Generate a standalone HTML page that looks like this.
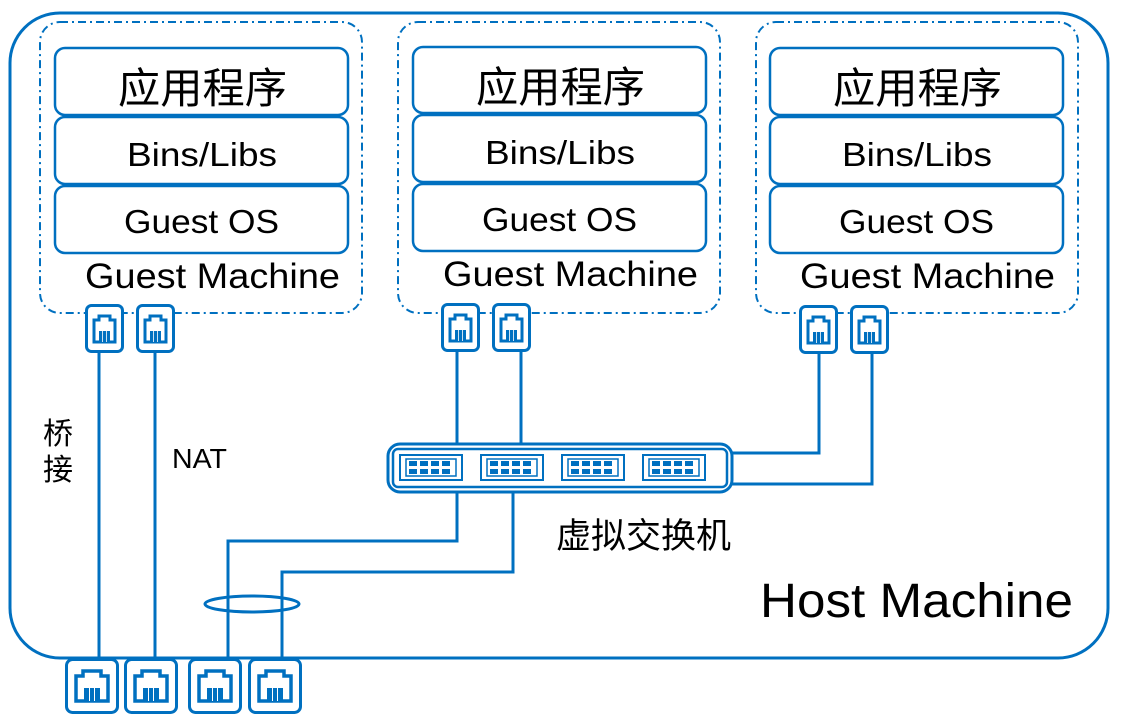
<!DOCTYPE html>
<html><head><meta charset="utf-8"><style>
html,body{margin:0;padding:0;background:#fff;}
svg text{font-family:"Liberation Sans","Noto Sans CJK SC",sans-serif;fill:#000;}
</style></head><body>
<svg width="1124" height="723" viewBox="0 0 1124 723" xmlns="http://www.w3.org/2000/svg">
<defs>
<g id="port">
<rect x="1.5" y="1.5" width="36" height="46" rx="5" fill="#fff" stroke="#0070C0" stroke-width="3"/>
<path d="M9 16 h5 v-4 h11 v4 h5 v22 h-21 z" fill="none" stroke="#0070C0" stroke-width="3"/>
<rect x="14" y="27" width="11" height="11" fill="#0070C0"/>
<line x1="17.5" y1="27" x2="17.5" y2="38" stroke="#fff" stroke-width="0.8"/>
<line x1="21.5" y1="27" x2="21.5" y2="38" stroke="#fff" stroke-width="0.8"/>
</g>
<g id="bport">
<rect x="1.5" y="1.5" width="51" height="53" rx="6" fill="#fff" stroke="#0070C0" stroke-width="3"/>
<path d="M11 18 h7 v-5 h18 v5 h7 v25 h-32 z" fill="none" stroke="#0070C0" stroke-width="3.5"/>
<rect x="19" y="30" width="16" height="13" fill="#0070C0"/>
<line x1="24.5" y1="30" x2="24.5" y2="43" stroke="#fff" stroke-width="1"/>
<line x1="29.5" y1="30" x2="29.5" y2="43" stroke="#fff" stroke-width="1"/>
</g>
<g id="sw">
<rect x="0" y="0" width="62" height="25" fill="#fff" stroke="#0070C0" stroke-width="2"/>
<rect x="6" y="4" width="50" height="17" fill="none" stroke="#0070C0" stroke-width="1.5"/>
<g fill="#0070C0"><rect x="9" y="6" width="8" height="5"/><rect x="20" y="6" width="8" height="5"/><rect x="31" y="6" width="8" height="5"/><rect x="42" y="6" width="8" height="5"/>
<rect x="9" y="14" width="8" height="5"/><rect x="20" y="14" width="8" height="5"/><rect x="31" y="14" width="8" height="5"/><rect x="42" y="14" width="8" height="5"/></g>
</g>
</defs>
<rect x="10" y="13" width="1098" height="645" rx="50" fill="none" stroke="#0070C0" stroke-width="3"/>
<g fill="none" stroke="#0070C0" stroke-width="2" stroke-dasharray="8 4 2 4">
<rect x="40" y="22" width="322" height="291" rx="20"/>
<rect x="398" y="22" width="322" height="291" rx="20"/>
<rect x="756" y="22" width="322" height="291" rx="20"/>
</g>
<g fill="#fff" stroke="#0070C0" stroke-width="2.5">
<rect x="55" y="48" width="293" height="67" rx="10"/><rect x="55" y="117" width="293" height="67" rx="10"/><rect x="55" y="186" width="293" height="67" rx="10"/>
<rect x="413" y="47" width="293" height="66" rx="10"/><rect x="413" y="115" width="293" height="67" rx="10"/><rect x="413" y="184" width="293" height="67" rx="10"/>
<rect x="770" y="48" width="293" height="67" rx="10"/><rect x="770" y="117" width="293" height="67" rx="10"/><rect x="770" y="186" width="293" height="67" rx="10"/>
</g>
<g lengthAdjust="spacingAndGlyphs">
<text x="118" y="103" font-size="42" textLength="169" lengthAdjust="spacingAndGlyphs">应用程序</text>
<text x="127" y="166" font-size="33" textLength="150" lengthAdjust="spacingAndGlyphs">Bins/Libs</text>
<text x="124" y="233" font-size="33" textLength="155" lengthAdjust="spacingAndGlyphs">Guest OS</text>
<text x="85" y="288" font-size="35" textLength="255" lengthAdjust="spacingAndGlyphs">Guest Machine</text>
<text x="476" y="102" font-size="42" textLength="169" lengthAdjust="spacingAndGlyphs">应用程序</text>
<text x="485" y="164" font-size="33" textLength="150" lengthAdjust="spacingAndGlyphs">Bins/Libs</text>
<text x="482" y="231" font-size="33" textLength="155" lengthAdjust="spacingAndGlyphs">Guest OS</text>
<text x="443" y="286" font-size="35" textLength="255" lengthAdjust="spacingAndGlyphs">Guest Machine</text>
<text x="833" y="103" font-size="42" textLength="169" lengthAdjust="spacingAndGlyphs">应用程序</text>
<text x="842" y="166" font-size="33" textLength="150" lengthAdjust="spacingAndGlyphs">Bins/Libs</text>
<text x="839" y="233" font-size="33" textLength="155" lengthAdjust="spacingAndGlyphs">Guest OS</text>
<text x="800" y="288" font-size="35" textLength="255" lengthAdjust="spacingAndGlyphs">Guest Machine</text>
</g>
<g fill="none" stroke="#0070C0" stroke-width="3">
<line x1="99" y1="340" x2="99" y2="658"/>
<line x1="155" y1="340" x2="155" y2="658"/>
<line x1="457" y1="340" x2="457" y2="444"/>
<line x1="521" y1="340" x2="521" y2="444"/>
<polyline points="819,340 819,453 730,453"/>
<polyline points="872,340 872,484 730,484"/>
<polyline points="457,492 457,541 228,541 228,658"/>
<polyline points="513,492 513,572 282,572 282,658"/>
<ellipse cx="252" cy="604" rx="47" ry="8"/>
</g>
<use href="#port" x="85" y="304"/><use href="#port" x="136" y="304"/>
<use href="#port" x="441" y="303"/><use href="#port" x="492" y="303"/>
<use href="#port" x="799" y="305"/><use href="#port" x="850" y="305"/>
<rect x="388" y="444" width="344" height="48" rx="12" fill="#fff" stroke="#0070C0" stroke-width="3"/>
<rect x="393" y="449" width="334" height="38" rx="5" fill="none" stroke="#0070C0" stroke-width="2.5"/>
<use href="#sw" x="400" y="455"/><use href="#sw" x="481" y="455"/><use href="#sw" x="562" y="455"/><use href="#sw" x="643" y="455"/>
<use href="#bport" x="65" y="658"/><use href="#bport" x="124" y="658"/><use href="#bport" x="188" y="658"/><use href="#bport" x="248" y="658"/>
<text x="43" y="444" font-size="30">桥</text>
<text x="43" y="480" font-size="30">接</text>
<text x="172" y="468" font-size="28" textLength="55" lengthAdjust="spacingAndGlyphs">NAT</text>
<text x="556" y="548" font-size="35" textLength="175" lengthAdjust="spacingAndGlyphs">虚拟交换机</text>
<text x="760" y="617" font-size="48" textLength="313" lengthAdjust="spacingAndGlyphs">Host Machine</text>
</svg>
</body></html>
